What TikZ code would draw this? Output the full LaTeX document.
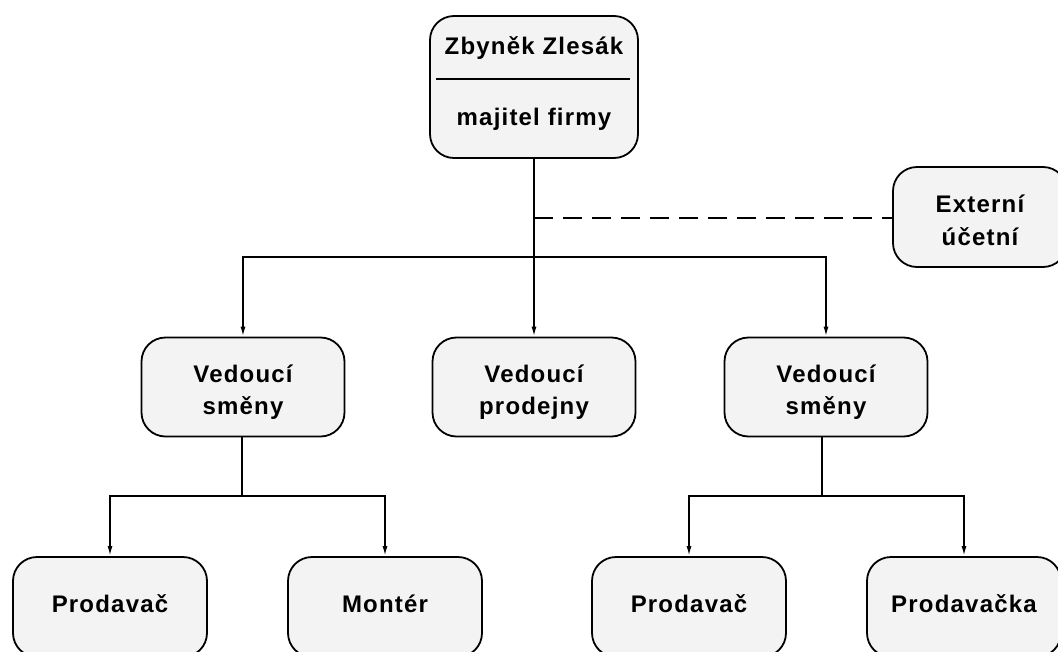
\documentclass[tikz,border=0pt]{standalone}
\usepackage{fontspec}
\usetikzlibrary{arrows.meta}
\newfontfamily\orgfont{Liberation Sans}[LetterSpace=5.0]
\definecolor{boxfill}{HTML}{F3F3F3}
\tikzset{
  orgbox/.style={draw=black, line width=1.8pt, fill=boxfill, rounded corners=24pt,
    minimum width=203pt, minimum height=99pt, inner sep=0pt},
  orgtext/.style={inner sep=0pt, align=center,
    font=\orgfont\bfseries\fontsize{24}{32.5}\selectfont},
  link/.style={line width=1.7pt, draw=black},
  arrowlink/.style={link, -{Latex[length=10pt,width=5pt]}}
}
\begin{document}
\begin{tikzpicture}[x=1pt,y=-1pt]
\useasboundingbox (0,0) rectangle (1058,651);
\clip (0,0) rectangle (1058,651);

% owner box with a rule between name and role
\node[orgbox, minimum width=208pt, minimum height=142pt] (boss) at (534,87) {};
\node[orgtext] (bossname) at (534,48) {Zbyněk Zlesák};
\node[orgtext] (bossrole) at (534,119) {majitel firmy};
\draw[line width=1.5pt] (436,79) -- (630,79);

% external accountant
\node[orgbox, minimum width=174pt, minimum height=100pt] (ext) at (980,217) {};
\node[orgtext] (extt) at ([yshift=-3.5pt]ext.center) {Externí\\účetní};

% middle level
\node[orgbox] (vs1) at (243,387) {};
\node[orgtext] (vs1t) at ([yshift=-5pt]vs1.center) {Vedoucí\\směny};
\node[orgbox] (vp) at (534,387) {};
\node[orgtext] (vpt) at ([yshift=-5pt]vp.center) {Vedoucí\\prodejny};
\node[orgbox] (vs2) at (826,387) {};
\node[orgtext] (vs2t) at ([yshift=-5pt]vs2.center) {Vedoucí\\směny};

% bottom level
\tikzset{staffbox/.style={orgbox, minimum width=194pt, minimum height=100pt}}
\node[staffbox] (p1) at (110,607) {};
\node[orgtext] (p1t) at ([yshift=3pt]p1.center) {Prodavač};
\node[staffbox] (m1) at (385,607) {};
\node[orgtext] (m1t) at ([yshift=3pt]m1.center) {Montér};
\node[staffbox] (p2) at (689,607) {};
\node[orgtext] (p2t) at ([yshift=3pt]p2.center) {Prodavač};
\node[staffbox] (p3) at (964,607) {};
\node[orgtext] (p3t) at ([yshift=3pt]p3.center) {Prodavačka};

% junction points
\coordinate (jd) at (534,218);
\coordinate (jt) at (534,257);
\coordinate (jl) at (242,496);
\coordinate (jr) at (822,496);

% owner to managers
\draw[arrowlink] (boss.south) -- (vp.north);
\draw[arrowlink] (jt) -| (vs1.north);
\draw[arrowlink] (jt) -| (vs2.north);
\draw[link, dash pattern=on 19pt off 10pt] (jd) -- (jd -| ext.west);

% managers to staff
\draw[link] (jl |- vs1.south) -- (jl);
\draw[arrowlink] (jl) -| (p1.north);
\draw[arrowlink] (jl) -| (m1.north);
\draw[link] (jr |- vs2.south) -- (jr);
\draw[arrowlink] (jr) -| (p2.north);
\draw[arrowlink] (jr) -| (p3.north);
\end{tikzpicture}
\end{document}
